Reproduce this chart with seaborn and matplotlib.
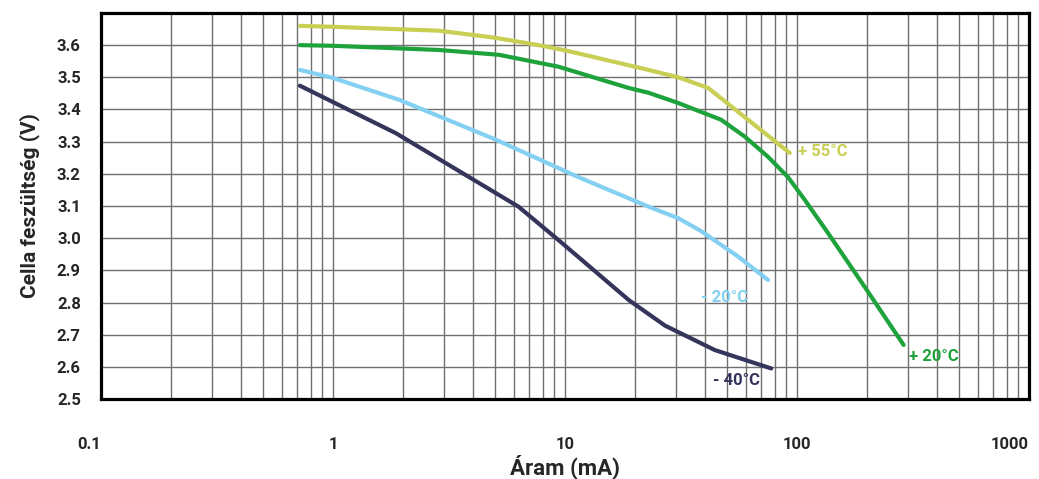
import numpy as np
import pandas as pd
import seaborn as sns
import matplotlib.pyplot as plt
from matplotlib.ticker import LogLocator, FixedLocator, NullFormatter

# curves (current in mA, voltage in V)
i_55 = [0.72, 1.0, 2.86, 5.0, 7.7, 10, 22.9, 30.8, 41.4, 61.5, 93]
v_55 = [3.66, 3.657, 3.645, 3.623, 3.60, 3.584, 3.523, 3.50, 3.467, 3.368, 3.265]

i_20 = [0.72, 1.0, 2.86, 5.19, 9.37, 18.8, 22.9, 30.8, 47.1, 59.7, 75, 91.4, 108, 136, 196, 288]
v_20 = [3.60, 3.598, 3.585, 3.57, 3.533, 3.467, 3.452, 3.42, 3.368, 3.315, 3.253, 3.19, 3.119, 3.016, 2.848, 2.668]

i_m20 = [0.72, 1.0, 1.93, 5.04, 11.4, 22.9, 30.8, 38.6, 55.7, 75]
v_m20 = [3.523, 3.498, 3.43, 3.306, 3.19, 3.098, 3.062, 3.022, 2.943, 2.87]

i_m40 = [0.72, 1.87, 3.6, 6.3, 9.7, 18.8, 27, 44.3, 77.4]
v_m40 = [3.474, 3.326, 3.203, 3.098, 2.985, 2.808, 2.728, 2.652, 2.595]

series = ['+ 55°C', '+ 20°C', '- 20°C', '- 40°C']
colors = ['#c9cf52', '#1ea33c', '#84d0f2', '#35355c']
label_pos = [(101, 3.268), (303, 2.631), (38.6, 2.817), (43.6, 2.559)]

frames = []
for name, ii, vv in zip(series, [i_55, i_20, i_m20, i_m40], [v_55, v_20, v_m20, v_m40]):
    frames.append(pd.DataFrame({'current': ii, 'voltage': vv, 'temp': name}))
df = pd.concat(frames, ignore_index=True)

sns.set_style('white')
plt.rcParams['font.family'] = ['Roboto', 'DejaVu Sans']

fig = plt.figure(figsize=(10.39, 4.79), dpi=100)
ax = fig.add_axes([0.0972, 0.167, 0.8932, 0.8059])

sns.lineplot(data=df, x='current', y='voltage', hue='temp', hue_order=series,
             palette=colors, linewidth=3, sort=False, estimator=None,
             legend=False, ax=ax)

ax.set_xscale('log')
ax.set_xlim(0.1, 1000)
ax.set_ylim(2.5, 3.7)

ax.xaxis.set_major_locator(FixedLocator([0.1, 1, 10, 100, 1000]))
ax.set_xticklabels(['0.1', '1', '10', '100', '1000'])
ax.xaxis.set_minor_locator(LogLocator(base=10, subs=np.arange(2, 10)))
ax.xaxis.set_minor_formatter(NullFormatter())
ax.set_yticks(np.round(np.arange(2.5, 3.65, 0.1), 1))
ax.set_yticklabels([f'{v:.1f}' for v in np.arange(2.5, 3.65, 0.1)])

ax.grid(which='major', axis='both', color='#707070', linewidth=1)
ax.grid(which='minor', axis='x', color='#707070', linewidth=1)
ax.tick_params(axis='x', which='major', length=17, width=1, color='#909090',
               pad=10, labelsize=12)
ax.tick_params(axis='x', which='minor', length=0)
ax.tick_params(axis='y', which='major', length=6.5, width=1, color='#909090',
               pad=8, labelsize=12)
for lab in ax.get_xticklabels() + ax.get_yticklabels():
    lab.set_fontweight('bold')
ax.get_xticklabels()[-1].set_horizontalalignment('right')
ax.get_xticklabels()[0].set_horizontalalignment('right')

for sp in ax.spines.values():
    sp.set_linewidth(2.3)
    sp.set_color('black')
    sp.set_zorder(5)

for name, col, (xp, yp) in zip(series, colors, label_pos):
    ax.text(xp, yp, name, color=col, fontsize=12, fontweight='bold',
            va='center', ha='left')

ax.set_xlabel('Áram (mA)', fontsize=16, fontweight='bold', labelpad=2)
ax.set_ylabel('Cella feszültség (V)', fontsize=15, fontweight='bold', labelpad=12)

fig.savefig('out.png', dpi=100)
